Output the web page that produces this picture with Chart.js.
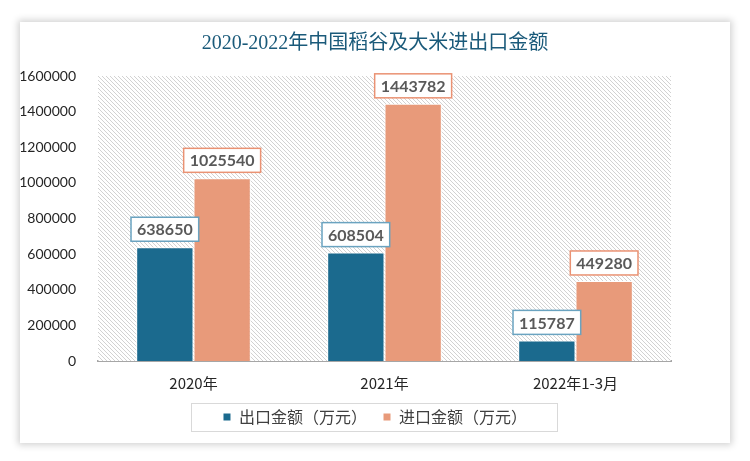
<!DOCTYPE html>
<html>
<head>
<meta charset="utf-8">
<script src="https://cdn.jsdelivr.net/npm/chart.js@4.4.1/dist/chart.umd.min.js"></script>
<style>
  html, body { margin: 0; padding: 0; background: #fff; }
  body { width: 750px; height: 461px; position: relative; overflow: hidden; }
  #card {
    position: absolute; left: 20px; top: 22px; width: 710px; height: 421px;
    background: #fff; box-shadow: 0 0 7px 2px rgba(0,0,0,0.18);
  }
</style>
</head>
<body>
<div id="card"><canvas id="chart"></canvas></div>
<script>
const categories = ["2020年", "2021年", "2022年1-3月"];
const exportValues = [638650, 608504, 115787];
const importValues = [1025540, 1443782, 449280];
const seriesNames = ["出口金额（万元）", "进口金额（万元）"];
const yTicks = [0, 200000, 400000, 600000, 800000, 1000000, 1200000, 1400000, 1600000];

const exportColor = "#1b6a8e";
const importColor = "#e89a7a";

// diagonal hatch behind the bars
function makeHatch(ctx) {
  const c = document.createElement("canvas");
  c.width = 4; c.height = 4;
  const p = c.getContext("2d");
  p.fillStyle = "#fff";
  p.fillRect(0, 0, 4, 4);
  p.strokeStyle = "#d2d2d2";
  p.lineWidth = 1;
  p.beginPath();
  p.moveTo(0, 0); p.lineTo(4, 4);
  p.moveTo(-1, 3); p.lineTo(1, 5);
  p.moveTo(3, -1); p.lineTo(5, 1);
  p.stroke();
  return ctx.createPattern(c, "repeat");
}

const hatchPlugin = {
  id: "hatch",
  beforeDatasetsDraw(chart) {
    const { ctx, chartArea: a } = chart;
    ctx.save();
    ctx.fillStyle = makeHatch(ctx);
    ctx.fillRect(a.left, a.top, a.right - a.left, a.bottom - a.top);
    ctx.restore();
  }
};

const labelPlugin = {
  id: "boxLabels",
  afterDatasetsDraw(chart) {
    const ctx = chart.ctx;
    ctx.save();
    ctx.font = "bold 16px Lato, 'Open Sans', sans-serif";
    ctx.textAlign = "center";
    ctx.textBaseline = "middle";
    chart.data.datasets.forEach((ds, i) => {
      const meta = chart.getDatasetMeta(i);
      meta.data.forEach((bar, j) => {
        const text = String(ds.data[j]);
        const w = ctx.measureText(text).width + 12;
        const h = 24;
        const x = bar.x - w / 2;
        const y = bar.y - 6 - h;
        ctx.fillStyle = "#fff";
        ctx.fillRect(x, y, w, h);
        ctx.strokeStyle = ds.labelBorder;
        ctx.lineWidth = 1.5;
        ctx.strokeRect(x, y, w, h);
        ctx.fillStyle = "#595959";
        ctx.fillText(text, bar.x, y + h / 2 + 1);
      });
    });
    ctx.restore();
  }
};

const legendBoxPlugin = {
  id: "legendBox",
  afterDraw(chart) {
    const boxes = chart.legend.legendHitBoxes;
    if (!boxes || !boxes.length) return;
    const ctx = chart.ctx;
    const left = Math.min(...boxes.map(b => b.left)) - 32;
    const right = Math.max(...boxes.map(b => b.left + b.width)) + 30;
    const top = boxes[0].top - 6;
    const bottom = boxes[0].top + boxes[0].height + 6;
    ctx.save();
    ctx.strokeStyle = "#d9d9d9";
    ctx.lineWidth = 1;
    ctx.strokeRect(Math.round(left) + 0.5, Math.round(top) + 0.5, Math.round(right - left), Math.round(bottom - top));
    ctx.restore();
  }
};

new Chart(document.getElementById("chart"), {
  type: "bar",
  data: {
    labels: categories,
    datasets: [
      { label: seriesNames[0], data: exportValues, backgroundColor: exportColor,
        borderColor: "#fff", borderWidth: 1, labelBorder: "#6aa3c0" },
      { label: seriesNames[1], data: importValues, backgroundColor: importColor,
        borderColor: "#fff", borderWidth: 1, labelBorder: "#ea9273" }
    ]
  },
  options: {
    responsive: true,
    maintainAspectRatio: false,
    animation: false,
    layout: { padding: { left: 0, right: 0, top: 0, bottom: 8 } },
    datasets: { bar: { categoryPercentage: 0.6, barPercentage: 1.0 } },
    plugins: {
      title: {
        display: true,
        text: "2020-2022年中国稻谷及大米进出口金额",
        color: "#1a5a7a",
        font: { size: 20, family: "'Liberation Serif', 'Noto Sans CJK SC', serif", weight: "normal" },
        padding: { top: 10, bottom: 20 }
      },
      legend: {
        position: "bottom",
        labels: {
          boxWidth: 8, boxHeight: 8, color: "#404040", padding: 16,
          font: { size: 16, family: "'Noto Sans CJK SC', sans-serif" }
        }
      },
      tooltip: { enabled: false }
    },
    scales: {
      x: {
        grid: { display: false },
        border: { color: "#a6a6a6", width: 2 },
        ticks: { color: "#262626", font: { size: 15, family: "'Noto Sans CJK SC', sans-serif" }, padding: 5 },
        afterFit(axis) { axis.height = 32; }
      },
      y: {
        min: 0, max: 1600000,
        afterBuildTicks(axis) { axis.ticks = yTicks.map(v => ({ value: v })); },
        afterFit(axis) { axis.width = 78; },
        grid: { display: false },
        border: { display: false },
        ticks: {
          color: "#262626", font: { size: 14, family: "Lato, 'Open Sans', sans-serif" }, padding: 14,
          callback: v => String(v)
        }
      },
      right: {
        position: "right",
        display: true,
        grid: { display: false },
        border: { display: false },
        ticks: { display: false },
        afterFit(axis) { axis.width = 59; }
      }
    }
  },
  plugins: [hatchPlugin, labelPlugin, legendBoxPlugin]
});
</script>
</body>
</html>
